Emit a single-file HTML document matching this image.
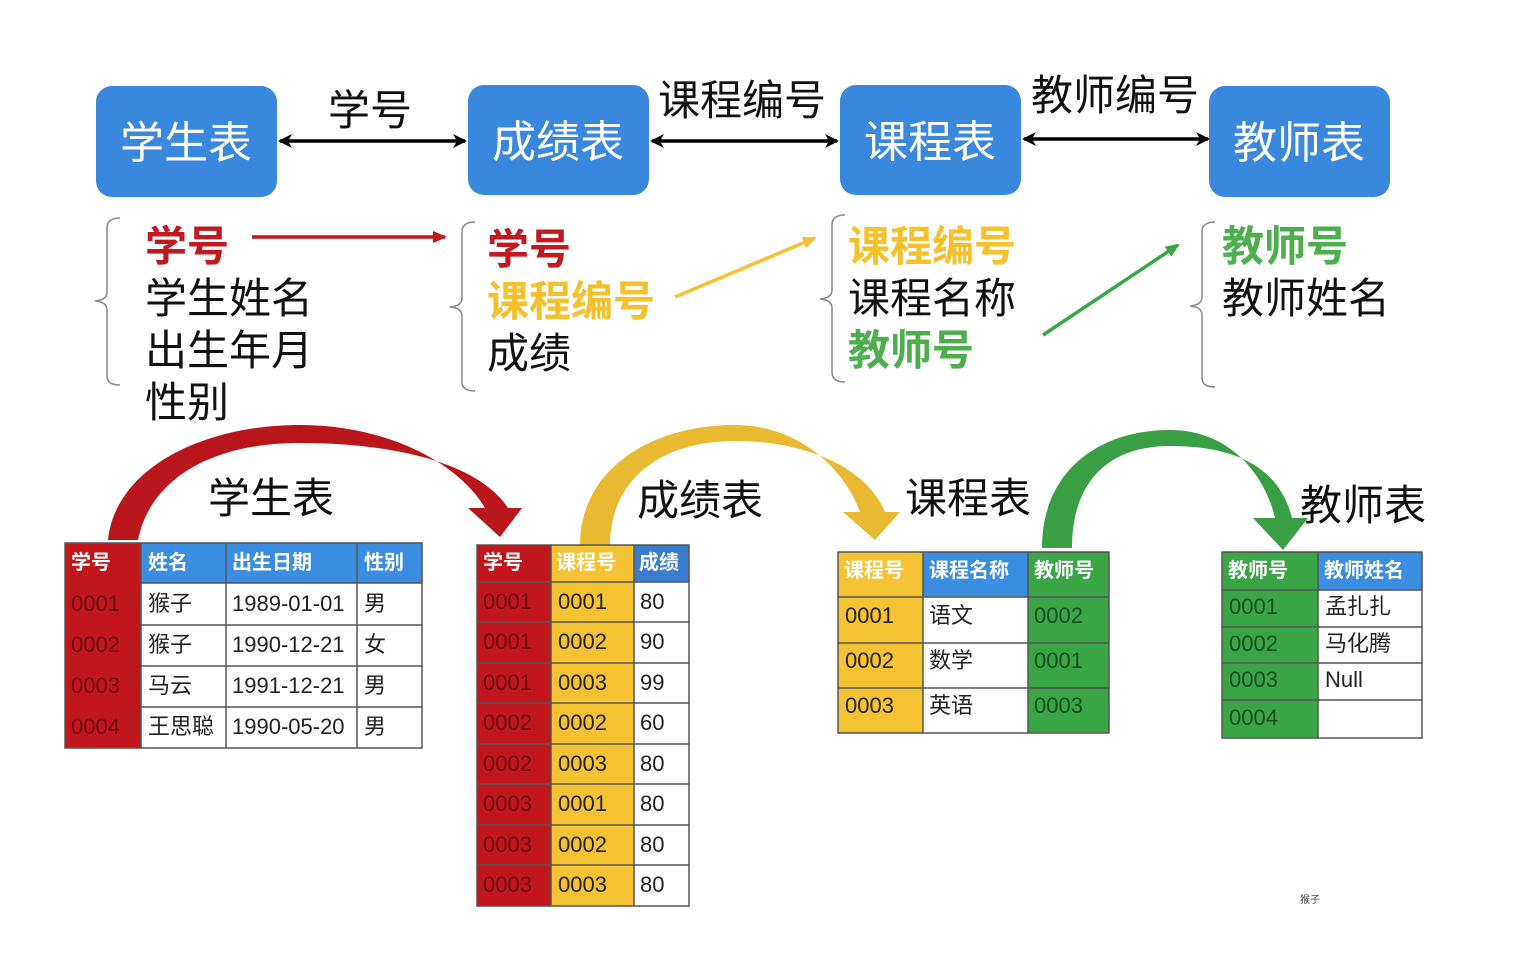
<!DOCTYPE html>
<html><head><meta charset="utf-8"><style>
html,body{margin:0;padding:0;background:#fff;}
svg{display:block;font-family:"Liberation Sans","Noto Sans CJK SC",sans-serif;}
.box{fill:#3a87de;}
.bt{fill:#fff;font-size:44px;}
.lb{fill:#111;font-size:42px;}
.f{font-size:42px;fill:#111;}
.fb{font-size:42px;font-weight:bold;}
.br{fill:none;stroke:#888;stroke-width:1.5;}
.hd{fill:#fff;font-size:20px;font-weight:bold;}
.c{font-size:22px;fill:#222;}
.cr{font-size:22px;fill:#6a0a0a;}
.cg{font-size:22px;fill:#14501c;}
.gl{stroke:#555;stroke-width:1.5;fill:none;}
</style></head><body>
<svg width="1528" height="974" viewBox="0 0 1528 974" xmlns="http://www.w3.org/2000/svg">
<defs>
<marker id="ab" markerWidth="14" markerHeight="14" refX="12" refY="7" orient="auto-start-reverse" markerUnits="userSpaceOnUse"><path d="M0,0 L14,7 L0,14 L4,7 Z" fill="#000"/></marker>
<marker id="ar" markerWidth="14" markerHeight="12" refX="12" refY="6" orient="auto" markerUnits="userSpaceOnUse"><path d="M0,0 L14,6 L0,12 Z" fill="#c0161c"/></marker>
<marker id="ay" markerWidth="14" markerHeight="12" refX="12" refY="6" orient="auto" markerUnits="userSpaceOnUse"><path d="M0,0 L14,6 L0,12 Z" fill="#f5c233"/></marker>
<marker id="ag" markerWidth="14" markerHeight="12" refX="12" refY="6" orient="auto" markerUnits="userSpaceOnUse"><path d="M0,0 L14,6 L0,12 Z" fill="#3aa545"/></marker>
</defs>

<rect class="box" x="96" y="86" width="181" height="111" rx="16"/>
<rect class="box" x="468" y="85" width="181" height="110" rx="16"/>
<rect class="box" x="840" y="85" width="181" height="110" rx="16"/>
<rect class="box" x="1209" y="86" width="181" height="111" rx="16"/>
<text class="bt" x="186" y="158" text-anchor="middle">学生表</text>
<text class="bt" x="558" y="157" text-anchor="middle">成绩表</text>
<text class="bt" x="930" y="157" text-anchor="middle">课程表</text>
<text class="bt" x="1299" y="158" text-anchor="middle">教师表</text>

<line x1="280" y1="141" x2="465" y2="141" stroke="#000" stroke-width="3.5" marker-start="url(#ab)" marker-end="url(#ab)"/>
<line x1="652" y1="141" x2="837" y2="141" stroke="#000" stroke-width="3.5" marker-start="url(#ab)" marker-end="url(#ab)"/>
<line x1="1024" y1="139" x2="1208" y2="139" stroke="#000" stroke-width="3.5" marker-start="url(#ab)" marker-end="url(#ab)"/>
<text class="lb" x="328" y="125">学号</text>
<text class="lb" x="658" y="115">课程编号</text>
<text class="lb" x="1031" y="110">教师编号</text>

<path class="br" d="M120,218 Q107,218 107,228 L107,292 Q107,300 95,301 Q107,302 107,310 L107,376 Q107,385 120,385"/>
<path class="br" d="M475,222 Q462,222 462,232 L462,298 Q462,306 450,307 Q462,308 462,316 L462,382 Q462,391 475,391"/>
<path class="br" d="M845,215 Q832,215 832,225 L832,290 Q832,298 820,299 Q832,300 832,308 L832,372 Q832,382 845,382"/>
<path class="br" d="M1215,222 Q1202,222 1202,232 L1202,297 Q1202,305 1190,306 Q1202,307 1202,315 L1202,378 Q1202,387 1215,387"/>

<text class="fb" x="145" y="261" fill="#c0191f">学号</text>
<text class="f" x="145" y="313">学生姓名</text>
<text class="f" x="145" y="365">出生年月</text>
<text class="f" x="145" y="417">性别</text>

<text class="fb" x="487" y="264" fill="#c0191f">学号</text>
<text class="fb" x="487" y="316" fill="#f5c02a">课程编号</text>
<text class="f" x="487" y="368">成绩</text>

<text class="fb" x="848" y="261" fill="#f5c02a">课程编号</text>
<text class="f" x="848" y="313">课程名称</text>
<text class="fb" x="848" y="365" fill="#4cae4c">教师号</text>

<text class="fb" x="1222" y="261" fill="#4cae4c">教师号</text>
<text class="f" x="1222" y="313">教师姓名</text>

<line x1="252" y1="237" x2="445" y2="237" stroke="#c0161c" stroke-width="3.5" marker-end="url(#ar)"/>
<line x1="675" y1="297" x2="815" y2="238" stroke="#f5c233" stroke-width="3.5" marker-end="url(#ay)"/>
<line x1="1043" y1="335" x2="1178" y2="245" stroke="#3aa545" stroke-width="3.5" marker-end="url(#ag)"/>

<path fill="#b8161a" d="M108,540 C115,470 200,425 300,425 C390,425 460,465 485,508 L468,508 L500,537 L522,508 L508,508 C480,465 400,443 300,443 C210,443 150,480 138,540 Z"/>
<path fill="#e9b932" d="M580,545 C580,470 650,425 735,425 C800,425 845,470 860,512 L843,512 L875,540 L900,512 L885,512 C868,470 810,441 735,441 C660,441 610,480 610,545 Z"/>
<path fill="#3a9e44" d="M1042,548 C1042,470 1100,430 1170,430 C1230,430 1265,475 1275,518 L1253,518 L1283,550 L1308,518 L1292,518 C1280,470 1240,446 1170,446 C1110,446 1072,480 1072,548 Z"/>
<text class="lb" x="208" y="513" font-size="44">学生表</text>
<text class="lb" x="637" y="515" font-size="44">成绩表</text>
<text class="lb" x="905" y="513" font-size="44">课程表</text>
<text class="lb" x="1300" y="520" font-size="44">教师表</text>

<rect x="65" y="543" width="76" height="205" fill="#c0161c"/>
<rect x="141" y="543" width="281" height="40" fill="#3a8de0"/>
<g class="gl">
<rect x="65" y="543" width="357" height="205"/>
<line x1="141" y1="543" x2="141" y2="748"/><line x1="226" y1="543" x2="226" y2="748"/><line x1="357" y1="543" x2="357" y2="748"/>
<line x1="141" y1="583" x2="422" y2="583"/><line x1="141" y1="625" x2="422" y2="625"/><line x1="141" y1="666" x2="422" y2="666"/><line x1="141" y1="707" x2="422" y2="707"/>
</g>
<text class="hd" x="71" y="569">学号</text><text class="hd" x="148" y="569">姓名</text><text class="hd" x="232" y="569">出生日期</text><text class="hd" x="364" y="569">性别</text>
<g class="cr"><text x="71" y="611">0001</text><text x="71" y="652">0002</text><text x="71" y="693">0003</text><text x="71" y="734">0004</text></g>
<g class="c"><text x="148" y="611">猴子</text><text x="148" y="652">猴子</text><text x="148" y="693">马云</text><text x="148" y="734">王思聪</text>
<text x="232" y="611">1989-01-01</text><text x="232" y="652">1990-12-21</text><text x="232" y="693">1991-12-21</text><text x="232" y="734">1990-05-20</text>
<text x="364" y="611">男</text><text x="364" y="652">女</text><text x="364" y="693">男</text><text x="364" y="734">男</text></g>

<rect x="477" y="545" width="74" height="361" fill="#c0161c"/>
<rect x="551" y="545" width="83" height="361" fill="#f5c233"/>
<rect x="634" y="545" width="55" height="37" fill="#3a7dcf"/>
<g class="gl">
<rect x="477" y="545" width="212" height="361"/>
<line x1="551" y1="545" x2="551" y2="906"/><line x1="634" y1="545" x2="634" y2="906"/>
<line x1="477" y1="582" x2="689" y2="582"/><line x1="477" y1="622" x2="689" y2="622"/><line x1="477" y1="663" x2="689" y2="663"/><line x1="477" y1="703" x2="689" y2="703"/><line x1="477" y1="744" x2="689" y2="744"/><line x1="477" y1="784" x2="689" y2="784"/><line x1="477" y1="825" x2="689" y2="825"/><line x1="477" y1="865" x2="689" y2="865"/>
</g>
<text class="hd" x="483" y="569">学号</text><text class="hd" x="556" y="569" fill="#fbe7a8">课程号</text><text class="hd" x="639" y="569">成绩</text>
<g class="cr"><text x="483" y="609">0001</text><text x="483" y="649">0001</text><text x="483" y="690">0001</text><text x="483" y="730">0002</text><text x="483" y="771">0002</text><text x="483" y="811">0003</text><text x="483" y="852">0003</text><text x="483" y="892">0003</text></g>
<g class="c"><text x="558" y="609">0001</text><text x="558" y="649">0002</text><text x="558" y="690">0003</text><text x="558" y="730">0002</text><text x="558" y="771">0003</text><text x="558" y="811">0001</text><text x="558" y="852">0002</text><text x="558" y="892">0003</text>
<text x="640" y="609">80</text><text x="640" y="649">90</text><text x="640" y="690">99</text><text x="640" y="730">60</text><text x="640" y="771">80</text><text x="640" y="811">80</text><text x="640" y="852">80</text><text x="640" y="892">80</text></g>

<rect x="838" y="552" width="85" height="181" fill="#f5c233"/>
<rect x="923" y="552" width="105" height="45" fill="#3a8de0"/>
<rect x="1028" y="552" width="81" height="181" fill="#3aa545"/>
<g class="gl">
<rect x="838" y="552" width="271" height="181"/>
<line x1="923" y1="552" x2="923" y2="733"/><line x1="1028" y1="552" x2="1028" y2="733"/>
<line x1="838" y1="597" x2="1109" y2="597"/><line x1="838" y1="643" x2="1109" y2="643"/><line x1="838" y1="688" x2="1109" y2="688"/>
</g>
<text class="hd" x="844" y="577" fill="#fbe7a8">课程号</text><text class="hd" x="929" y="577">课程名称</text><text class="hd" x="1034" y="577">教师号</text>
<g class="c"><text x="845" y="623">0001</text><text x="845" y="668">0002</text><text x="845" y="713">0003</text>
<text x="929" y="623">语文</text><text x="929" y="668">数学</text><text x="929" y="713">英语</text></g>
<g class="cg"><text x="1034" y="623">0002</text><text x="1034" y="668">0001</text><text x="1034" y="713">0003</text></g>

<rect x="1222" y="552" width="96" height="186" fill="#3aa545"/>
<rect x="1318" y="552" width="104" height="38" fill="#3a8de0"/>
<g class="gl">
<rect x="1222" y="552" width="200" height="186"/>
<line x1="1318" y1="552" x2="1318" y2="738"/>
<line x1="1222" y1="590" x2="1422" y2="590"/><line x1="1222" y1="627" x2="1422" y2="627"/><line x1="1222" y1="663" x2="1422" y2="663"/><line x1="1222" y1="700" x2="1422" y2="700"/>
</g>
<text class="hd" x="1228" y="577">教师号</text><text class="hd" x="1324" y="577">教师姓名</text>
<g class="cg"><text x="1229" y="614">0001</text><text x="1229" y="651">0002</text><text x="1229" y="687">0003</text><text x="1229" y="725">0004</text></g>
<g class="c"><text x="1325" y="614">孟扎扎</text><text x="1325" y="651">马化腾</text><text x="1325" y="687">Null</text></g>

<text x="1300" y="903" font-size="10" fill="#444">猴子</text>
</svg>
</body></html>
